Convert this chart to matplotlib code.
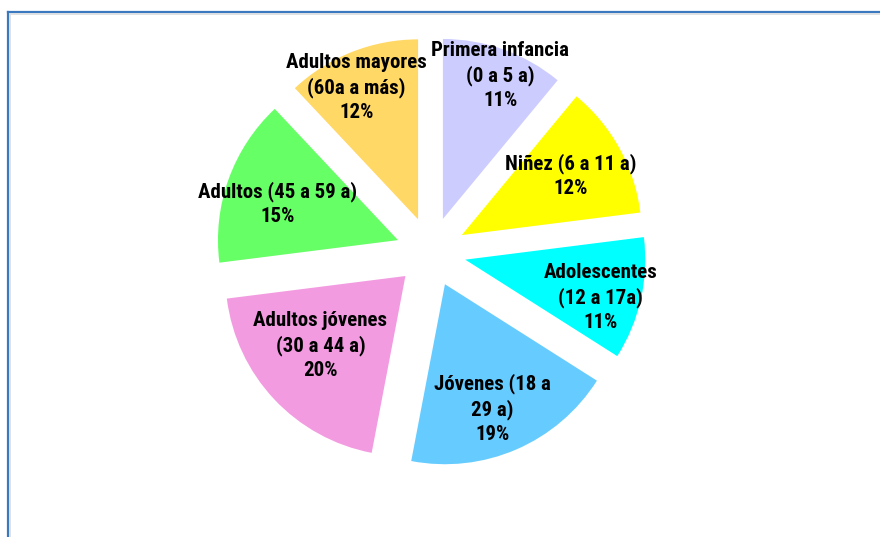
import matplotlib.pyplot as plt
from matplotlib.lines import Line2D
import numpy as np

names = ["Primera infancia\n(0 a 5 a)", "Niñez (6 a 11 a)", "Adolescentes\n(12 a 17a)",
         "Jóvenes (18 a\n29 a)", "Adultos jóvenes\n(30 a 44 a)", "Adultos (45 a 59 a)",
         "Adultos mayores\n(60a a más)"]
values = [11, 12, 11, 19, 20, 15, 12]
colors = ["#CCCCFF", "#FFFF00", "#00FFFF", "#66CCFF", "#F39BE1", "#66FF66", "#FFD866"]
# label placement: distance (fraction of radius) and angle shift (deg) from slice middle
label_r = [0.86, 0.69, 0.78, 0.74, 0.61, 0.70, 0.81]
label_da = [-1.9, -0.4, -3.1, -2.4, -3.9, 2.8, 3.4]

plt.rcParams['font.family'] = ['Roboto Condensed', 'Liberation Sans Narrow', 'Liberation Sans', 'DejaVu Sans']

W, H = 880, 537
cx, cy, R = 431, 285, 180  # pixel centre (from bottom) and radius

fig = plt.figure(figsize=(W / 100, H / 100), dpi=100)
ax = fig.add_axes([0, 0, 1, 1])

explode = 0.195
wedges, _ = ax.pie(values, colors=colors, startangle=90, counterclock=False,
                   explode=[explode] * len(values), radius=1, frame=True,
                   wedgeprops=dict(linewidth=0))
ax.set_xlim(-cx / R, (W - cx) / R)
ax.set_ylim(-cy / R, (H - cy) / R)
ax.axis("off")

for w, name, v, lr, da in zip(wedges, names, values, label_r, label_da):
    mid = np.deg2rad((w.theta1 + w.theta2) / 2 + da)
    ox, oy = w.center
    tx = ox + lr * np.cos(mid)
    ty = oy + lr * np.sin(mid)
    ax.text(tx, ty, f"{name}\n{v}%", ha="center", va="center", fontsize=15,
            fontweight="bold", linespacing=1.33, color="black")

# chart border (cropped frame)
x0, y0 = 7.5 / W, 1 - 11.5 / H
fig.add_artist(Line2D([x0, 1], [y0, y0], color="#3A78C0", lw=1.6, transform=fig.transFigure))
fig.add_artist(Line2D([x0, x0], [0, y0], color="#3A78C0", lw=1.6, transform=fig.transFigure))
fig.add_artist(Line2D([x0 + 2.5 / W, 1], [y0 - 2.5 / H, y0 - 2.5 / H], color="#DADCDE", lw=1.2, transform=fig.transFigure))
fig.add_artist(Line2D([x0 + 2.5 / W, x0 + 2.5 / W], [0, y0 - 2.5 / H], color="#DADCDE", lw=1.2, transform=fig.transFigure))

fig.savefig("out.png", dpi=100)
